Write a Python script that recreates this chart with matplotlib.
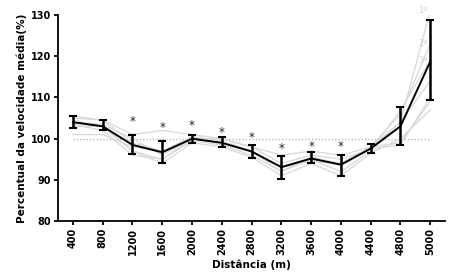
import matplotlib
matplotlib.use("Agg")
import matplotlib.pyplot as plt

# distancias (m)
distancias = ["400", "800", "1200", "1600", "2000", "2400", "2800", "3200",
              "3600", "4000", "4400", "4800", "5000"]

# media e limites do erro
media = [104.0, 103.0, 98.5, 96.7, 100.0, 99.0, 96.9, 93.1, 95.2, 93.7, 97.6, 103.0, 118.7]
erro_sup = [105.5, 104.5, 101.0, 99.5, 101.0, 100.5, 98.4, 95.9, 96.8, 96.1, 98.8, 107.7, 128.8]
erro_inf = [102.5, 102.0, 96.2, 94.2, 99.0, 98.0, 95.4, 90.2, 94.1, 91.0, 96.5, 98.5, 109.5]

# curvas individuais (cinza)
ind_1 = [105.5, 104.5, 99.0, 97.0, 100.5, 99.5, 97.0, 93.0, 95.0, 93.5, 97.5, 104.0, 131.0]
ind_2 = [105.0, 104.5, 101.0, 102.0, 101.0, 100.0, 98.0, 96.0, 97.0, 96.0, 98.0, 106.0, 123.0]
ind_3 = [104.5, 103.0, 97.0, 95.0, 99.5, 98.5, 96.0, 92.0, 95.0, 92.0, 97.0, 107.0, 119.0]
ind_4 = [103.0, 103.0, 97.0, 94.0, 99.0, 98.0, 95.5, 91.0, 94.0, 91.0, 96.5, 100.0, 107.0]
ind_5 = [103.5, 102.0, 96.0, 95.0, 100.0, 99.0, 97.0, 92.0, 95.5, 94.0, 98.0, 99.0, 109.0]
ind_6 = [101.0, 101.0, 98.0, 97.0, 100.0, 100.0, 98.0, 94.0, 96.0, 95.0, 97.5, 98.5, 110.0]
ind_7 = [104.0, 103.5, 100.0, 96.0, 100.0, 99.0, 97.0, 93.0, 94.5, 94.0, 98.0, 104.0, 114.0]
individuais = [ind_1, ind_2, ind_3, ind_4, ind_5, ind_6, ind_7]
rotulos_top = ["1º", "2º", "3º"]

# asteriscos (posicao do * em y)
idx_asterisco = [2, 3, 4, 5, 6, 7, 8, 9]
y_asterisco = [104.2, 102.6, 103.3, 101.5, 100.3, 97.6, 98.2, 98.2]

x = list(range(len(distancias)))

fig = plt.figure(figsize=(4.57, 2.74), dpi=100)
ax = fig.add_axes([0.127, 0.193, 0.847, 0.752])

ax.plot([0, 12], [100, 100], color="#b0b0b0", linestyle=":", linewidth=0.9, zorder=1)

for serie in individuais:
    ax.plot(x, serie, color="#d8d8d8", linewidth=0.9, zorder=2)

for i, rot in enumerate(rotulos_top):
    ax.text(x[-1] - 0.1, individuais[i][-1], rot, color="#d0d0d0", fontsize=6,
            ha="right", va="center", zorder=2)

yerr = [[m - lo for m, lo in zip(media, erro_inf)], [hi - m for m, hi in zip(media, erro_sup)]]
ax.errorbar(x, media, yerr=yerr, color="black", linewidth=1.4, elinewidth=1.8,
            capsize=3, capthick=1.5, zorder=4)

for i, yy in zip(idx_asterisco, y_asterisco):
    ax.text(x[i], yy, "*", ha="center", va="center", fontsize=8.5, color="#222222")

ax.set_xlim(-0.5, 12.5)
ax.set_ylim(80, 130)
ax.set_yticks([80, 90, 100, 110, 120, 130])
ax.set_xticks(x)
ax.set_xticklabels(distancias, rotation=90)

for lbl in ax.get_xticklabels() + ax.get_yticklabels():
    lbl.set_fontweight("bold")
    lbl.set_fontsize(7)

ax.spines["top"].set_visible(False)
ax.spines["right"].set_visible(False)
ax.spines["left"].set_linewidth(1.3)
ax.spines["bottom"].set_linewidth(1.3)
ax.tick_params(width=1.3, length=3, pad=2)

ax.set_xlabel("Distância (m)", fontsize=7.5, fontweight="bold", labelpad=3)
ax.set_ylabel("Percentual da velocidade média(%)", fontsize=7.5, fontweight="bold", labelpad=3)

fig.savefig("out.png", dpi=100)
